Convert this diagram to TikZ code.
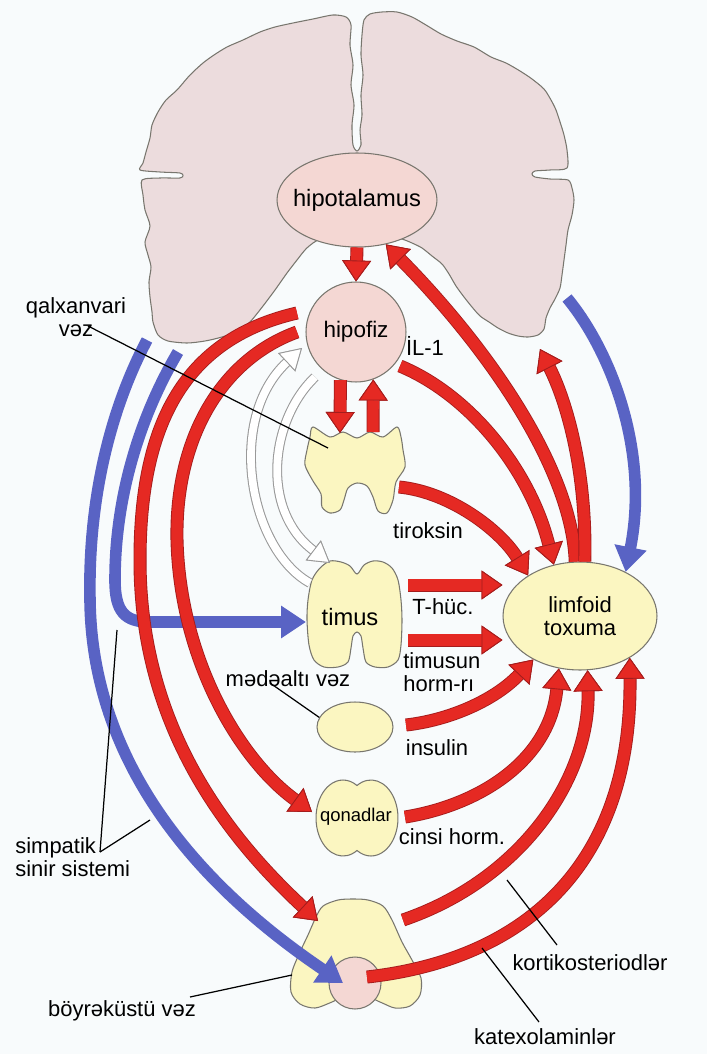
\documentclass[tikz,border=0pt]{standalone}
\usepackage{fontspec}
\setmainfont{Liberation Sans}
\usetikzlibrary{arrows.meta,shapes.geometric}

\definecolor{paper}{RGB}{248,251,252}
\definecolor{brainpink}{RGB}{236,220,221}
\definecolor{glandpink}{RGB}{244,215,211}
\definecolor{glandyellow}{RGB}{251,246,193}
\definecolor{hormred}{RGB}{229,41,35}
\definecolor{hormdark}{RGB}{165,28,28}
\definecolor{nerveblue}{RGB}{89,99,196}
\definecolor{edgegray}{RGB}{120,118,110}

\tikzset{
  hormone/.style={hormred, line width=6.4pt,
    -{Triangle[length=0.42cm, width=0.58cm, fill=hormred, color=hormdark, line width=0.5pt]},
    preaction={draw, hormdark, line width=7.4pt}},
  nerve/.style={nerveblue, line width=6.6pt, -{Triangle[length=0.5cm, width=0.62cm]}},
  feedback/.style={white, line width=4.4pt,
    -{Triangle[length=0.42cm, width=0.5cm, fill=white, color=gray!80, line width=0.5pt]},
    preaction={draw, gray!80, line width=5.6pt}},
  pointer/.style={black, line width=0.7pt},
  gland/.style={fill=glandyellow, draw=edgegray, line width=0.6pt},
  organ/.style={fill=glandpink, draw=edgegray, line width=0.6pt, inner sep=0pt},
  txt/.style={font=\fontsize{12.5}{13}\selectfont, inner sep=0pt, align=left},
}

\begin{document}
\begin{tikzpicture}[x=0.02cm, y=-0.02cm]
      \fill[paper] (0,0) rectangle (707,1054);
      \useasboundingbox (0,0) rectangle (707,1054);

      \draw[fill=brainpink, draw=edgegray, line width=0.6pt] plot[smooth cycle, tension=0.45] coordinates {
        (357,151) (353,145) (352,125) (354,105) (351,85) (353,65) (350,45) (351,25) (346,17)
        (333,15) (313,19) (293,23) (275,27) (260,32) (243,40) (227,47) (214,55) (203,63) (190,75)
        (177,90) (166,100) (158,112) (152,125) (150,138) (146,152) (143,163) (140,170)
        (160,172) (180,173) (183,175.5) (180,178) (160,178) (142,180)
        (143,195) (145,210) (150,226) (145,242) (148,255) (151,267) (149,282) (150,297) (152,312)
        (153,322) (158,335) (168,341) (187,343) (205,341) (222,337) (238,331) (250,322) (263,306)
        (275,290) (287,273) (297,260) (305,250) (313,243)
        (330,234) (357,230) (385,234) (402,239)
        (412,243) (422,248) (432,256) (442,264) (449,274) (456,286) (464,297) (472,307) (480,316)
        (489,322) (498,328) (508,333) (518,336) (528,337) (538,335) (544,329) (546,318) (550,308)
        (555,299) (560,288) (562,275) (564,260) (566,245) (568,230) (572,215) (574,200) (572,188) (568,180)
        (550,179) (535,177) (532,174) (535,171) (550,170) (567,168)
        (567,150) (564,135) (561,125) (556,110) (551,100) (544,89) (532,79) (520,71) (506,63) (491,57)
        (474,47) (457,41) (441,34) (426,25) (412,17) (397,12) (382,12) (370,14) (364,20)
        (362,35) (361,55) (363,75) (361,95) (362,115) (360,130) (361,145)};

      \node[organ, ellipse, minimum width=3.2cm, minimum height=1.88cm] (hypo) at (357,200) {};
      \node[font=\fontsize{13.5}{14}\selectfont, inner sep=0pt] (hypo-txt) at (hypo) {hipotalamus};
      \node[organ, circle, minimum size=2cm, font=\fontsize{12.8}{13}\selectfont] (hipofiz) at (356,332) {hipofiz};

      \draw[gland] plot[smooth cycle, tension=0.5] coordinates {
        (313,427) (330,437) (343,432) (357,438) (370,432) (383,437) (397,427) (401,437) (403,450)
        (405,467) (396,482) (393,500) (387,513) (378,511) (373,497) (367,486) (357,483) (348,488)
        (344,500) (340,510) (330,513) (322,507) (321,494) (313,481) (305,465) (307,450) (310,437)};
      \coordinate (tyr-c) at (328,448);

      \draw[gland] plot[smooth cycle, tension=0.5] coordinates {
        (357,574) (364,565) (373,561) (383,562) (392,568) (398,580) (401,600) (402,620) (401,645)
        (398,660) (388,667) (375,667) (366,662) (363,648) (361,636) (357,632) (353,636) (351,648)
        (348,662) (338,667) (324,667) (314,660) (309,645) (307,620) (308,600) (312,580) (320,568)
        (330,561) (341,562) (350,566)};
      \node[font=\fontsize{13.5}{14}\selectfont, inner sep=0pt] (timus) at (350,617) {timus};

      \node[gland, ellipse, minimum width=1.52cm, minimum height=1cm] (pancreas) at (355,727) {};

      \draw[gland] (357,785.5) arc[start angle=-121.2, end angle=121.2, x radius=27, y radius=38]
        arc[start angle=58.8, end angle=301.2, x radius=27, y radius=38] -- cycle;
      \node[font=\fontsize{10.5}{11}\selectfont, inner sep=0pt] (qonad) at (356,817) {qonadlar};

      \draw[gland] plot[smooth cycle, tension=0.5] coordinates {
        (323,906) (338,900) (353,899) (368,900) (383,906) (392,920) (402,942) (412,960) (421,978)
        (420,995) (410,1006) (395,1008) (380,1002) (355,992) (332,1002) (315,1008) (300,1004)
        (291,992) (292,972) (300,952) (308,935) (316,917)};
      \node[organ, circle, minimum size=1.04cm] (medulla) at (355,983) {};

      \node[gland, ellipse, minimum width=3.08cm, minimum height=2.16cm, inner sep=0pt, align=center,
        font=\fontsize{12.5}{13}\selectfont] (lymph) at (580,616) {limfoid\\toxuma};

      \coordinate (tyr-nl) at (340,433);
      \coordinate (tyr-nr) at (373,432);
      \coordinate (tyr-e) at (399,487);
      \coordinate (tim-ne) at (408,585);
      \coordinate (tim-se) at (408,640);
      \coordinate (tim-nw) at (310,583);
      \coordinate (tim-n) at (330,563);
      \coordinate (tim-w) at (306,622);
      \coordinate (pan-e) at (406,725);
      \coordinate (gon-w) at (312,812);
      \coordinate (gon-e) at (405,817);
      \coordinate (adr-n) at (318,921);
      \coordinate (adr-e) at (403,920);
      \coordinate (med-c) at (367,977);
      \coordinate (med-w) at (343,983);
      \coordinate (brain-r) at (540,349);
      \coordinate (brain-rb) at (567,298);
      \coordinate (brain-l1) at (147,340);
      \coordinate (brain-l2) at (178,352);
      \coordinate (hip-w1) at (297,313);
      \coordinate (hip-w2) at (297,332);
      \coordinate (hip-se) at (400,366);
      \coordinate (hip-sw) at (315,377);
      \coordinate (hip-sw2) at (302,348);

      \draw[nerve] (brain-rb) .. controls (610,350) and (650,450) .. (lymph.44);
      \draw[nerve] (brain-l1) .. controls (110,410) and (88,500) .. (90,600)
        .. controls (92,780) and (220,900) .. (med-w);
      \draw[nerve] (brain-l2) .. controls (138,420) and (115,500) .. (115,580)
        .. controls (115,612) and (125,622) .. (150,622) -- (tim-w);

      \draw[feedback] (tim-nw) .. controls (250,550) and (225,420) .. (hip-sw2);
      \draw[feedback] (hip-sw) .. controls (270,420) and (260,510) .. (tim-n);

      \draw[hormone] (hypo.south) -- (hipofiz.north);
      \draw[hormone] (hipofiz.-108) -- (tyr-nl);
      \draw[hormone] (tyr-nr) -- (hipofiz.-70);
      \draw[hormone] (lymph.95) .. controls (572,470) and (490,350) .. (hypo.-57);
      \draw[hormone] (lymph.85) .. controls (587,470) and (566,400) .. (brain-r);
      \draw[hormone] (hip-se) .. controls (470,395) and (530,470) .. (lymph.117);
      \draw[hormone] (tyr-e) .. controls (450,492) and (500,530) .. (lymph.142);
      \draw[hormone] (tim-ne) -- (tim-ne -| lymph.west);
      \draw[hormone] (tim-se) -- (tim-se -| lymph.west);
      \draw[hormone] (pan-e) .. controls (450,720) and (495,700) .. (lymph.223);
      \draw[hormone] (gon-e) .. controls (480,805) and (550,760) .. (lymph.248);
      \draw[hormone] (adr-e) .. controls (520,880) and (590,780) .. (lymph.278);
      \draw[hormone] (med-c) .. controls (520,960) and (632,870) .. (lymph.320);
      \draw[hormone] (hip-w1) .. controls (180,340) and (140,430) .. (140,560)
        .. controls (140,720) and (220,830) .. (adr-n);
      \draw[hormone] (hip-w2) .. controls (220,360) and (175,440) .. (177,540)
        .. controls (180,660) and (240,760) .. (gon-w);

      \node[txt, align=center] (lbl-tyr) at (76,317) {qalxanvari\\vəz};
      \node[txt] (lbl-il) at (425,346) {İL-1};
      \node[txt] (lbl-tir) at (428,531) {tiroksin};
      \node[txt] (lbl-thuc) at (443,607) {T-hüc.};
      \node[txt, anchor=west] (lbl-timh) at (403,672) {timusun\\horm-rı};
      \node[txt] (lbl-pan) at (288,679) {mədəaltı vəz};
      \node[txt] (lbl-ins) at (437,748) {insulin};
      \node[txt] (lbl-cin) at (452,837) {cinsi horm.};
      \node[txt, anchor=west] (lbl-sym) at (15,857) {simpatik\\sinir sistemi};
      \node[txt] (lbl-adr) at (122,1011) {böyrəküstü vəz};
      \node[txt] (lbl-kor) at (590,963) {kortikosteriodlər};
      \node[txt] (lbl-kat) at (545,1037) {katexolaminlər};

      \coordinate (p-tyr) at (88,326);
      \coordinate (p-pan) at (270,683);
      \coordinate (p-sym) at (100,852);
      \coordinate (p-adr) at (190,997);
      \coordinate (p-kat) at (539,1022);
      \coordinate (p-kor) at (557,945);
      \draw[pointer] (p-tyr) -- (tyr-c);
      \draw[pointer] (p-pan) -- (pancreas.165);
      \draw[pointer] (p-sym) -- (117,630);
      \draw[pointer] (p-sym) -- (150,820);
      \draw[pointer] (p-adr) -- (292,975);
      \draw[pointer] (p-kat) -- (482,948);
      \draw[pointer] (p-kor) -- (507,880);
\end{tikzpicture}
\end{document}
